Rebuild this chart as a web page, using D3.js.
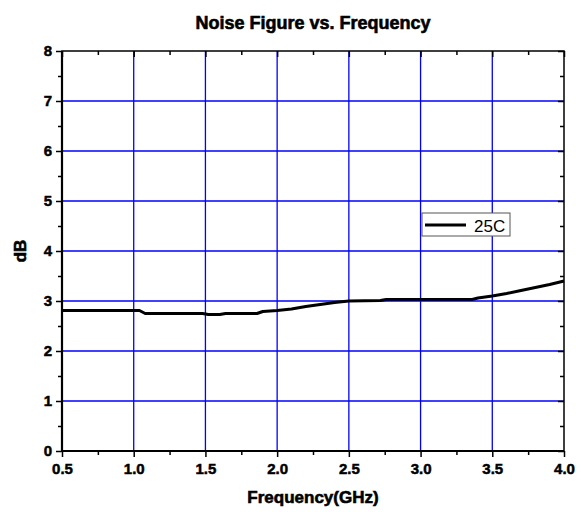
<!DOCTYPE html>
<html>
<head>
<meta charset="utf-8">
<script src="https://cdn.jsdelivr.net/npm/d3@7"></script>
<style>
  body { margin: 0; background: #fff; }
  svg { display: block; font-family: "Liberation Sans", Arial, sans-serif; }
</style>
</head>
<body>
<svg id="chart" width="581" height="512"></svg>
<script>
// values
const freq = [0.5, 1.04, 1.08, 1.48, 1.52, 1.6, 1.64, 1.86, 1.9, 2.0, 2.1, 2.2, 2.3, 2.4, 2.5, 2.72, 2.76, 3.36, 3.4, 3.5, 3.6, 3.7, 3.8, 3.9, 4.0];
const nf25 = [2.81, 2.81, 2.75, 2.75, 2.73, 2.73, 2.75, 2.75, 2.79, 2.81, 2.84, 2.89, 2.93, 2.97, 3.0, 3.01, 3.03, 3.03, 3.06, 3.10, 3.15, 3.21, 3.27, 3.33, 3.40];
const xTicks = [0.5, 1.0, 1.5, 2.0, 2.5, 3.0, 3.5, 4.0];
const yTicks = [0, 1, 2, 3, 4, 5, 6, 7, 8];
const seriesName = '25C';

const margin = { top: 51, right: 17, bottom: 61, left: 62 };
const W = 581, H = 512;
const innerW = W - margin.left - margin.right;
const innerH = H - margin.top - margin.bottom;

const svg = d3.select('#chart');
const g = svg.append('g').attr('transform', `translate(${margin.left},${margin.top})`);

const x = d3.scaleLinear().domain([0.5, 4.0]).range([0, innerW]);
const y = d3.scaleLinear().domain([0, 8]).range([innerH, 0]);

// grid
g.append('g').selectAll('line')
  .data(xTicks.slice(1, -1))
  .join('line')
  .attr('x1', d => x(d)).attr('x2', d => x(d))
  .attr('y1', 0).attr('y2', innerH)
  .attr('stroke', '#0000ff').attr('stroke-width', 1.3);
g.append('g').selectAll('line')
  .data(yTicks.slice(1, -1))
  .join('line')
  .attr('y1', d => y(d)).attr('y2', d => y(d))
  .attr('x1', 0).attr('x2', innerW)
  .attr('stroke', '#0000ff').attr('stroke-width', 1.3);

// bottom / left axes: major + minor ticks outward
const xMinor = d3.range(0.75, 4.0, 0.5);
const yMinor = d3.range(0.5, 8, 1);

g.append('g').attr('transform', `translate(0,${innerH})`)
  .call(d3.axisBottom(x).tickValues(xTicks).tickFormat(d3.format('.1f')).tickSize(6).tickPadding(6));
g.append('g').attr('transform', `translate(0,${innerH})`)
  .call(d3.axisBottom(x).tickValues(xMinor).tickFormat('').tickSize(4));

g.append('g')
  .call(d3.axisLeft(y).tickValues(yTicks).tickFormat(d3.format('d')).tickSize(6).tickPadding(4));
g.append('g')
  .call(d3.axisLeft(y).tickValues(yMinor).tickFormat('').tickSize(4));

// top and right axes, ticks pointing inward
g.append('g')
  .call(d3.axisBottom(x).tickValues(xTicks).tickFormat('').tickSize(6));
g.append('g')
  .call(d3.axisBottom(x).tickValues(xMinor).tickFormat('').tickSize(4));
g.append('g').attr('transform', `translate(${innerW},0)`)
  .call(d3.axisLeft(y).tickValues(yTicks).tickFormat('').tickSize(6));
g.append('g').attr('transform', `translate(${innerW},0)`)
  .call(d3.axisLeft(y).tickValues(yMinor).tickFormat('').tickSize(4));

g.selectAll('.domain').remove();
g.selectAll('.tick line').attr('stroke', '#000').attr('stroke-width', 1.5);
g.selectAll('.tick text')
  .attr('fill', '#000')
  .attr('stroke', '#000').attr('stroke-width', 0.5)
  .style('font-size', '15px')
  .style('font-weight', 'bold');

// frame
g.append('rect')
  .attr('width', innerW).attr('height', innerH)
  .attr('fill', 'none').attr('stroke', '#000').attr('stroke-width', 1.5);
g.append('line').attr('x1', 0).attr('x2', 0).attr('y1', 0).attr('y2', innerH)
  .attr('stroke', '#000').attr('stroke-width', 2.2);
g.append('line').attr('x1', 0).attr('x2', innerW).attr('y1', innerH).attr('y2', innerH)
  .attr('stroke', '#000').attr('stroke-width', 2.2);

// series line
const line = d3.line()
  .x((d, i) => x(freq[i]))
  .y(d => y(d));
g.append('path')
  .datum(nf25)
  .attr('fill', 'none')
  .attr('stroke', '#000')
  .attr('stroke-width', 3)
  .attr('stroke-linejoin', 'round')
  .attr('d', line);

// legend
const legend = g.append('g').attr('transform', `translate(${x(3.01)},${y(4.76)})`);
legend.append('rect')
  .attr('width', 88).attr('height', 23)
  .attr('fill', '#fff').attr('stroke', '#555').attr('stroke-width', 1);
legend.append('line')
  .attr('x1', 3).attr('x2', 44).attr('y1', 12).attr('y2', 12)
  .attr('stroke', '#000').attr('stroke-width', 3);
legend.append('text')
  .attr('x', 52).attr('y', 18.5)
  .style('font-size', '17px')
  .text(seriesName);

// titles
svg.append('text')
  .attr('x', margin.left + innerW / 2).attr('y', 29)
  .attr('text-anchor', 'middle')
  .attr('stroke', '#000').attr('stroke-width', 0.6)
  .style('font-size', '18px').style('font-weight', 'bold')
  .text('Noise Figure vs. Frequency');

svg.append('text')
  .attr('x', margin.left + innerW / 2).attr('y', 503)
  .attr('text-anchor', 'middle')
  .attr('stroke', '#000').attr('stroke-width', 0.6)
  .style('font-size', '17px').style('font-weight', 'bold')
  .text('Frequency(GHz)');

svg.append('text')
  .attr('transform', `translate(26,${margin.top + innerH / 2}) rotate(-90)`)
  .attr('text-anchor', 'middle')
  .attr('stroke', '#000').attr('stroke-width', 0.6)
  .style('font-size', '17px').style('font-weight', 'bold')
  .text('dB');
</script>
</body>
</html>
